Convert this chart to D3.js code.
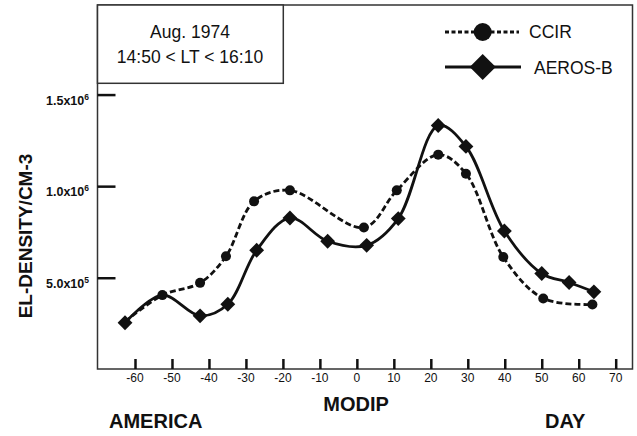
<!DOCTYPE html>
<html>
<head>
<meta charset="utf-8">
<script src="https://cdn.jsdelivr.net/npm/d3@7"></script>
<style>
  body { margin: 0; background: #fff; }
  svg { font-family: "Liberation Sans", Arial, sans-serif; }
</style>
</head>
<body>
<svg id="chart"></svg>
<script>
// values (modip in degrees, density in el/cm3)
var ccirModip = [-62.7, -52.6, -42.4, -35.4, -27.8, -18.1, 1.9, 10.8, 22.0, 29.5, 39.6, 50.4, 63.7];
var ccirDensity = [2.6e5, 4.05e5, 4.72e5, 6.17e5, 9.17e5, 9.77e5, 7.74e5, 9.77e5, 1.172e6, 1.068e6, 6.13e5, 3.87e5, 3.54e5];

var aerosModip = [-62.7, -52.6, -42.4, -34.9, -27.1, -18.1, -7.9, 2.65, 11.2, 22.0, 29.5, 39.9, 50.0, 57.4, 64.1];
var aerosDensity = [2.54e5, 4.05e5, 2.92e5, 3.55e5, 6.5e5, 8.26e5, 6.99e5, 6.77e5, 8.23e5, 1.331e6, 1.217e6, 7.55e5, 5.23e5, 4.74e5, 4.23e5];

var xTicks = [-60, -50, -40, -30, -20, -10, 0, 10, 20, 30, 40, 50, 60, 70];
var yTicks = [5e5, 1e6, 1.5e6];
var yTickLabels = [['5.0x10', '5'], ['1.0x10', '6'], ['1.5x10', '6']];

var seriesNames = ['CCIR', 'AEROS-B'];
var infoLines = ['Aug. 1974', '14:50 < LT < 16:10'];

var W = 637, H = 436;
var plotLeft = 97.5, plotRight = 632.5, plotTop = 5, plotBottom = 369;

var svg = d3.select('#chart').attr('width', W).attr('height', H);

var x = d3.scaleLinear().domain([-60, 70]).range([135, 615.7]);
var y = d3.scaleLinear().domain([0, 2e6]).range([369.3, 3]);

// frame
svg.append('rect')
  .attr('x', plotLeft).attr('y', plotTop)
  .attr('width', plotRight - plotLeft).attr('height', plotBottom - plotTop)
  .attr('fill', 'none').attr('stroke', '#333').attr('stroke-width', 1.5);

// x ticks point up from the bottom edge
var xAxis = d3.axisTop(x).tickValues(xTicks).tickSize(10).tickPadding(0).tickFormat('');
var gx = svg.append('g').attr('transform', 'translate(0,' + plotBottom + ')').call(xAxis);
gx.select('.domain').remove();
gx.selectAll('.tick line').attr('stroke', '#111').attr('stroke-width', 2.5);

svg.selectAll('.xlab').data(xTicks).enter().append('text')
  .attr('class', 'xlab')
  .attr('x', function (d) { return x(d); })
  .attr('y', 382)
  .attr('text-anchor', 'middle')
  .attr('font-size', 12)
  .attr('fill', '#111')
  .text(function (d) { return d; });

// y ticks point right from the left edge
var yAxis = d3.axisRight(y).tickValues(yTicks).tickSize(18).tickFormat('');
var gy = svg.append('g').attr('transform', 'translate(' + plotLeft + ',0)').call(yAxis);
gy.select('.domain').remove();
gy.selectAll('.tick line').attr('stroke', '#111').attr('stroke-width', 2.5);

var ylab = svg.selectAll('.ylab').data(yTicks).enter().append('text')
  .attr('class', 'ylab')
  .attr('x', 89)
  .attr('y', function (d) { return y(d) + 10; })
  .attr('text-anchor', 'end')
  .attr('font-size', 12.5)
  .attr('font-weight', 'bold')
  .attr('fill', '#111');
ylab.append('tspan').text(function (d, i) { return yTickLabels[i][0]; });
ylab.append('tspan')
  .attr('dy', -5).attr('font-size', 8.5)
  .text(function (d, i) { return yTickLabels[i][1]; });

// axis titles
svg.append('text')
  .attr('transform', 'translate(32,236) rotate(-90)')
  .attr('text-anchor', 'middle')
  .attr('font-size', 19).attr('font-weight', 'bold').attr('fill', '#111')
  .text('EL-DENSITY/CM-3');

svg.append('text')
  .attr('x', 356).attr('y', 411)
  .attr('text-anchor', 'middle')
  .attr('font-size', 20).attr('font-weight', 'bold').attr('fill', '#111')
  .text('MODIP');

svg.append('text')
  .attr('x', 109).attr('y', 428)
  .attr('font-size', 20).attr('font-weight', 'bold').attr('fill', '#111')
  .text('AMERICA');

svg.append('text')
  .attr('x', 545).attr('y', 428)
  .attr('font-size', 20).attr('font-weight', 'bold').attr('fill', '#111')
  .text('DAY');

// curves
var line = d3.line()
  .x(function (d) { return x(d[0]); })
  .y(function (d) { return y(d[1]); })
  .curve(d3.curveCatmullRom.alpha(0.5));

var ccir = d3.zip(ccirModip, ccirDensity);
var aeros = d3.zip(aerosModip, aerosDensity);

svg.append('path').datum(aeros)
  .attr('d', line)
  .attr('fill', 'none').attr('stroke', '#111').attr('stroke-width', 2.8);

svg.append('path').datum(ccir)
  .attr('d', line)
  .attr('fill', 'none').attr('stroke', '#111').attr('stroke-width', 2.8)
  .attr('stroke-dasharray', '6,3');

var diamond = d3.symbol().type(d3.symbolSquare).size(110);

// the -52.6 AEROS point has no diamond in the original, only the CCIR dot
svg.selectAll('.dia').data(aeros.filter(function (d, i) { return i !== 1; }))
  .enter().append('path')
  .attr('class', 'dia')
  .attr('d', diamond)
  .attr('transform', function (d) { return 'translate(' + x(d[0]) + ',' + y(d[1]) + ') rotate(45)'; })
  .attr('fill', '#111');

svg.selectAll('.dot').data(ccir.slice(1))
  .enter().append('circle')
  .attr('class', 'dot')
  .attr('cx', function (d) { return x(d[0]); })
  .attr('cy', function (d) { return y(d[1]); })
  .attr('r', 5)
  .attr('fill', '#111');

// info box
svg.append('rect')
  .attr('x', plotLeft).attr('y', plotTop)
  .attr('width', 283.3 - plotLeft).attr('height', 83.3 - plotTop)
  .attr('fill', '#fff').attr('stroke', '#333').attr('stroke-width', 1.5);

svg.selectAll('.info').data(infoLines).enter().append('text')
  .attr('class', 'info')
  .attr('x', 190)
  .attr('y', function (d, i) { return 38 + i * 25; })
  .attr('text-anchor', 'middle')
  .attr('font-size', 17.5).attr('fill', '#111')
  .text(function (d) { return d; });

// legend
var lg = svg.append('g');
lg.append('line')
  .attr('x1', 445).attr('x2', 519).attr('y1', 32).attr('y2', 32)
  .attr('stroke', '#111').attr('stroke-width', 3).attr('stroke-dasharray', '4,2.5');
lg.append('circle').attr('cx', 482.7).attr('cy', 32).attr('r', 9).attr('fill', '#111');
lg.append('line')
  .attr('x1', 445).attr('x2', 521).attr('y1', 67).attr('y2', 67)
  .attr('stroke', '#111').attr('stroke-width', 3);
lg.append('path')
  .attr('d', d3.symbol().type(d3.symbolSquare).size(340))
  .attr('transform', 'translate(482.7,67) rotate(45)')
  .attr('fill', '#111');
lg.selectAll('.lt').data(seriesNames).enter().append('text')
  .attr('class', 'lt')
  .attr('x', function (d, i) { return i === 0 ? 529 : 534; })
  .attr('y', function (d, i) { return i === 0 ? 38 : 73.5; })
  .attr('font-size', 17.5).attr('fill', '#111')
  .text(function (d) { return d; });
</script>
</body>
</html>
